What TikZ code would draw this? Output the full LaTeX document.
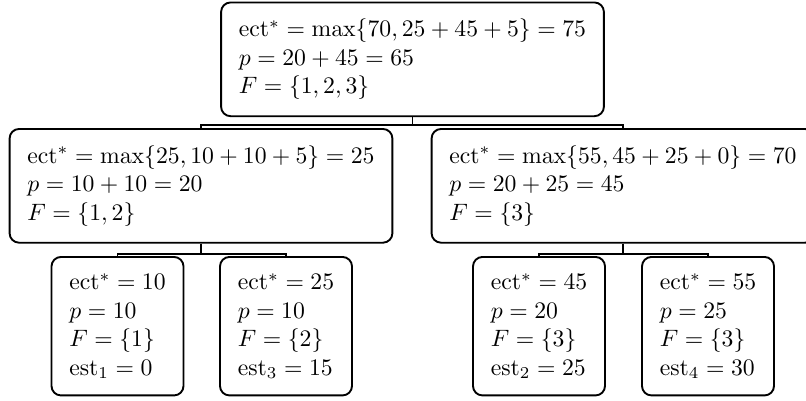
\documentclass[tikz,border=0pt]{standalone}
\usepackage{amsmath}
\usetikzlibrary{positioning}
\tikzset{
    state/.style={draw=black, fill=white, thick, rounded corners=4pt,
                  align=left, inner xsep=7.5pt, inner ysep=7pt},
    leaf/.style={state},
    % Connector style
    fork/.style={thick}
}

\begin{document}
\begin{tikzpicture}[x=0.422pt, y=-0.422pt]
    \useasboundingbox (0,0) rectangle (806,400);

    % Root of the search tree
    \node[state, anchor=north] (root) at (412.5,1.5)
        {$\mathrm{ect}^* = \max\{70, 25+45+5\} = 75$\\
         $p = 20+45 = 65$\\
         $F = \{1,2,3\}$};

    % Second level
    \node[state, anchor=north] (left) at (201,128)
        {$\mathrm{ect}^* = \max\{25, 10+10+5\} = 25$\\
         $p = 10+10 = 20$\\
         $F = \{1,2\}$};
    \node[state, anchor=north] (right) at (623,128)
        {$\mathrm{ect}^* = \max\{55, 45+25+0\} = 70$\\
         $p = 20+25 = 45$\\
         $F = \{3\}$};

    % Leaves
    \node[leaf, anchor=north] (leafA) at (117.5,256)
        {$\mathrm{ect}^* = 10$\\ $p = 10$\\ $F = \{1\}$\\ $\mathrm{est}_1 = 0$};
    \node[leaf, anchor=north] (leafB) at (286,256)
        {$\mathrm{ect}^* = 25$\\ $p = 10$\\ $F = \{2\}$\\ $\mathrm{est}_3 = 15$};
    \node[leaf, anchor=north] (leafC) at (539,256)
        {$\mathrm{ect}^* = 45$\\ $p = 20$\\ $F = \{3\}$\\ $\mathrm{est}_2 = 25$};
    \node[leaf, anchor=north] (leafD) at (708,256)
        {$\mathrm{ect}^* = 55$\\ $p = 25$\\ $F = \{3\}$\\ $\mathrm{est}_4 = 30$};

    % Forked connectors
    \draw[fork] (root.south) -- ++(0,8) -| (left.north);
    \draw[fork] (root.south) -- ++(0,8) -| (right.north);
    \draw[fork] (left.south) -- ++(0,10) -| (leafA.north);
    \draw[fork] (left.south) -- ++(0,10) -| (leafB.north);
    \draw[fork] (right.south) -- ++(0,10) -| (leafC.north);
    \draw[fork] (right.south) -- ++(0,10) -| (leafD.north);
\end{tikzpicture}
\end{document}
